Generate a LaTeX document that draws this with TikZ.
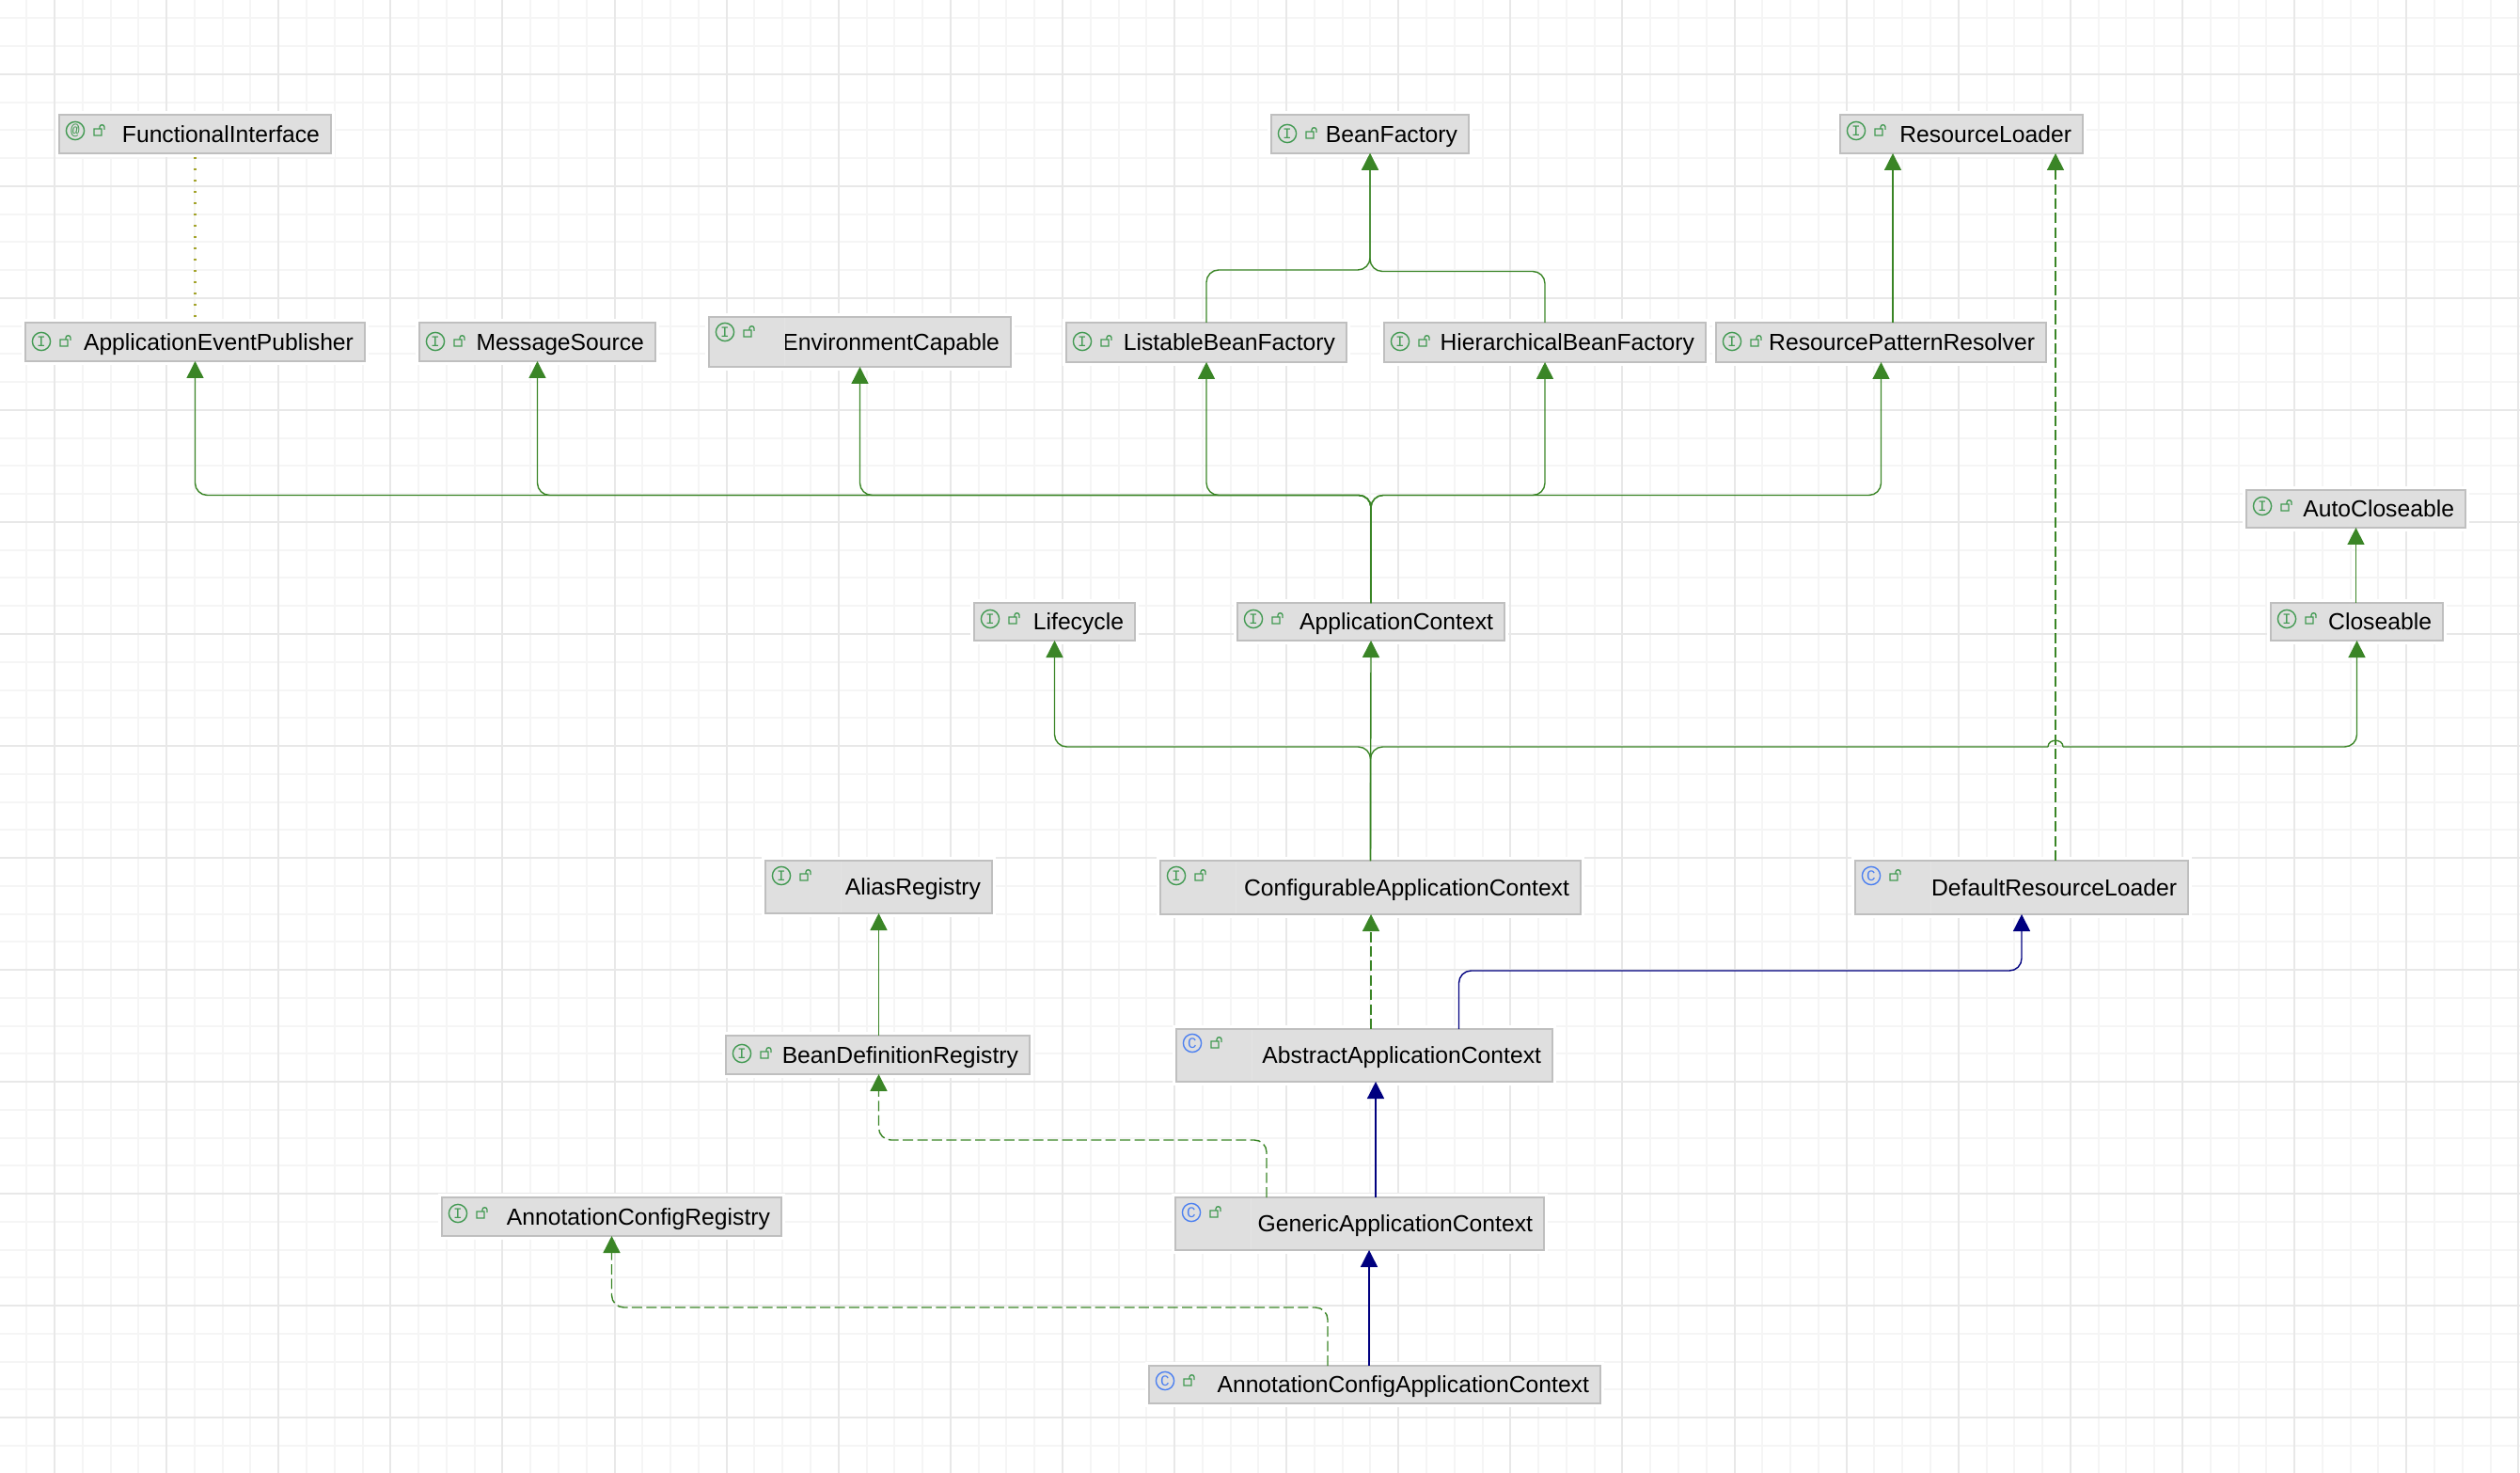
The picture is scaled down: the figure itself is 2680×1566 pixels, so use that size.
\documentclass[tikz,border=0pt]{standalone}
\usepackage{fontspec}
\setmainfont[Ligatures=NoCommon]{Liberation Sans}
\setmonofont{Liberation Mono}
\usetikzlibrary{arrows.meta,calc}
\definecolor{green700} {HTML}{3A8526}
\definecolor{green500} {HTML}{439A53}
\definecolor{blue900}  {HTML}{00007F}
\definecolor{blue500}  {HTML}{4C80F0}
\definecolor{olive500} {HTML}{A3A32A}
\definecolor{grey100}  {HTML}{F5F5F5}
\definecolor{grey200}  {HTML}{E8E8E8}
\definecolor{grey250}  {HTML}{E3E3E3}
\definecolor{grey300}  {HTML}{DFDFDF}
\definecolor{grey400}  {HTML}{BFBFBF}
\tikzset{
  box/.style   ={draw=grey400, line width=0.8pt, fill=grey300, anchor=north west,
                 align=right, inner xsep=6pt, inner ysep=0pt, outer sep=0pt,
                 text height=10pt, text depth=1.2pt,
                 font=\fontsize{12.35}{14}\selectfont,
                 preaction={draw=white, line width=4pt}},
  icon/.style  ={circle, draw=#1, text=#1, line width=0.7pt, minimum size=9.6pt,
                 inner sep=0pt, font=\fontsize{8}{8}\ttfamily},
  ar/.style    ={-{Triangle[length=9pt,width=9pt]}, draw=green700, line width=0.7pt,
                 rounded corners=6.5pt},
  ard/.style   ={ar, dash pattern=on 5.5pt off 2.2pt},
  arb/.style   ={-{Triangle[length=9pt,width=9pt]}, draw=blue900, line width=0.7pt,
                 rounded corners=6.5pt},
  dots/.style  ={draw=olive500, line width=1.2pt, dash pattern=on 0.8pt off 5.2pt},
  gridmin/.style={draw=grey100, line width=1pt},
  gridmaj/.style={draw=grey200, line width=1pt},
  lock/.pic    ={\draw[green500, line width=0.65pt]
                 (-5,-2) rectangle (3,5)
                 (1,-2) -- (1,-4) .. controls (1,-7) and (6,-7) .. (6,-4) -- (6,-1);}
}
% name, left, top, right, bottom, colour, letter, icon dy, text
\newcommand{\umlbox}[9]{%
  \node[box, minimum width={(#4-#2)*0.5pt}, minimum height={(#5-#3)*0.5pt},
        text width={(#4-#2-24)*0.5pt}] (#1) at (#2,#3) {#9};
  \path ($(#1.north west)+(17,#8)$) node[icon=#6] (#1-i) {#7};
  \path ($(#1.north west)+(42,#8)$) pic {lock};
}
\begin{document}
\begin{tikzpicture}[x=0.5pt, y=-0.5pt]
\useasboundingbox (0,0) rectangle (2680,1566);

\foreach \k in {0,...,90} \draw[gridmin] ({-1.5+29.775*\k},0) -- ({-1.5+29.775*\k},1566);
\foreach \k in {0,...,52} \draw[gridmin] (0,{19.5+29.75*\k}) -- (2680,{19.5+29.75*\k});
\foreach \k in {0,...,22} \draw[gridmaj] ({58+119.1*\k},0) -- ({58+119.1*\k},1566);
\foreach \k in {0,...,12} \draw[gridmaj] (0,{79+119*\k}) -- (2680,{79+119*\k});

\umlbox{fif}{63}{122}{352}{163}{green500}{@}{17}{FunctionalInterface}
\umlbox{bf}{1352}{122}{1562}{163}{green500}{I}{20}{BeanFactory}
\umlbox{rl}{1957}{122}{2215}{163}{green500}{I}{17}{ResourceLoader}
\umlbox{aep}{27}{343}{388}{384}{green500}{I}{20}{ApplicationEventPublisher}
\umlbox{ms}{446}{343}{697}{384}{green500}{I}{20}{MessageSource}
\umlbox{ec}{754}{337}{1075}{390}{green500}{I}{16}{EnvironmentCapable}
\umlbox{lbf}{1134}{343}{1432}{385}{green500}{I}{20}{ListableBeanFactory}
\umlbox{hbf}{1472}{343}{1814}{385}{green500}{I}{20}{HierarchicalBeanFactory}
\umlbox{rpr}{1825}{343}{2176}{385}{green500}{I}{20}{ResourcePatternResolver}
\umlbox{ac}{2389}{521}{2622}{561}{green500}{I}{17}{AutoCloseable}
\umlbox{lc}{1036}{641}{1207}{681}{green500}{I}{17}{Lifecycle}
\umlbox{ctx}{1316}{641}{1600}{681}{green500}{I}{17}{ApplicationContext}
\umlbox{cl}{2415}{641}{2598}{681}{green500}{I}{17}{Closeable}
\umlbox{ar}{814}{915}{1055}{971}{green500}{I}{16}{AliasRegistry}
\umlbox{cac}{1234}{915}{1681}{972}{green500}{I}{16}{ConfigurableApplicationContext}
\umlbox{drl}{1973}{915}{2327}{972}{blue500}{C}{16}{DefaultResourceLoader}
\umlbox{bdr}{772}{1101}{1095}{1142}{green500}{I}{19}{BeanDefinitionRegistry}
\umlbox{aac}{1251}{1094}{1651}{1150}{blue500}{C}{15}{AbstractApplicationContext}
\umlbox{acr}{470}{1273}{831}{1314}{green500}{I}{17}{AnnotationConfigRegistry}
\umlbox{gac}{1250}{1273}{1642}{1329}{blue500}{C}{16}{GenericApplicationContext}
\umlbox{acac}{1222}{1452}{1702}{1492}{blue500}{C}{16}{AnnotationConfigApplicationContext}

\foreach \t in {ec,ar,cac,drl,aac,gac}
  \draw[draw=grey250, line width=0.5pt] ($(\t.north west)+(80,1)$) -- ($(\t.south west)+(80,-1)$);

\coordinate (rowa) at (0,526.5);
\coordinate (rowb) at (0,794);
\coordinate (rowc) at (0,287);
\coordinate (rowd) at (0,288.5);
\coordinate (rowe) at (0,1032);
\coordinate (rowf) at (0,1212);
\coordinate (rowg) at (0,1390);
\coordinate (colrl) at (2013,0);
\coordinate (coldl) at (2186,0);
\coordinate (colgn) at (1463,0);
\coordinate (colan) at (1456,0);
\coordinate (colab) at (1551.5,0);
\coordinate (colaa) at (1458,0);
\coordinate (colga) at (1347,0);
\coordinate (colca) at (1412,0);
\coordinate (jumpl) at (2178,794);
\coordinate (jumpr) at (2194,794);

\draw[dots] ($(fif.south)+(0,4)$) -- ($(aep.north)+(0,-6)$);

\foreach \t in {aep,ms,ec,lbf,hbf,rpr}
  \draw[ar] (ctx.north) -- (ctx.north |- rowa) -- (\t.south |- rowa) -- (\t.south);
\draw[ar] (lbf.north) -- (lbf.north |- rowc) -- (bf.south |- rowc) -- (bf.south);
\draw[ar] (hbf.north) -- (hbf.north |- rowd) -- (bf.south |- rowd) -- (bf.south);
\draw[ar] (rpr.north -| colrl) -- (rl.south -| colrl);
\draw[ar] (cl.north -| ac.south) -- (ac.south);

\draw[ar] (cac.north) -- (ctx.south);
\draw[ar] (cac.north) -- (cac.north |- rowb) -- (lc.south |- rowb) -- (lc.south);
\draw[ar, -] (cac.north) -- (cac.north |- rowb) -- (jumpl);
\draw[ar, -] (jumpl) .. controls ($(jumpl)+(0,-9)$) and ($(jumpr)+(0,-9)$) .. (jumpr);
\draw[ar] (jumpr) -- (cl.south |- rowb) -- (cl.south);

\draw[ard] (drl.north -| coldl) -- (rl.south -| coldl);
\draw[ard] (aac.north -| colaa) -- (cac.south -| colaa);
\draw[arb] (aac.north -| colab) -- (colab |- rowe) -- (drl.south |- rowe) -- (drl.south);
\draw[ar] (bdr.north -| ar.south) -- (ar.south);
\draw[ard] (gac.north -| colga) -- (colga |- rowf) -- (ar.south |- rowf) -- (bdr.south -| ar.south);
\draw[arb] (gac.north -| colgn) -- (aac.south -| colgn);
\draw[arb] (acac.north -| colan) -- (gac.south -| colan);
\draw[ard] (acac.north -| colca) -- (colca |- rowg) -- (acr.south |- rowg) -- (acr.south);
\end{tikzpicture}
\end{document}
